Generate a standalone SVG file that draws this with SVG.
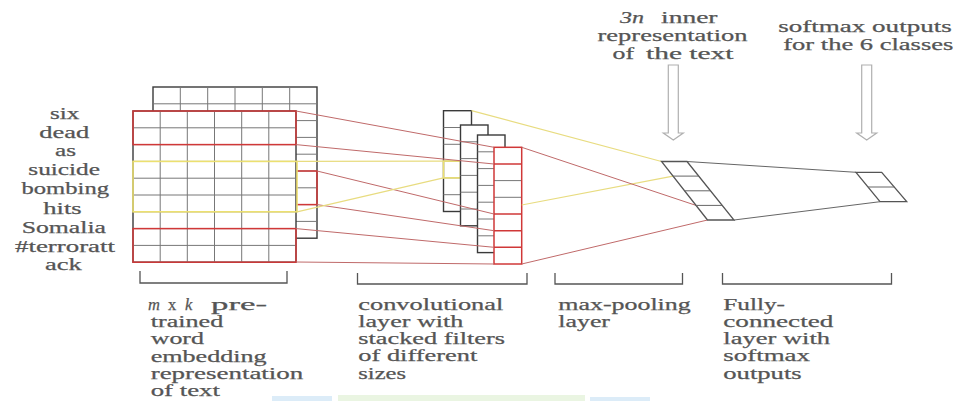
<svg xmlns="http://www.w3.org/2000/svg" width="957" height="401" viewBox="0 0 957 401">
<style>
text{font-family:'Liberation Serif','Times New Roman',serif;font-size:16.5px;fill:#555;stroke:#555;stroke-width:0.25}
.i{font-style:italic}
.grid{fill:none;stroke:#777;stroke-width:1}
.box{fill:#fff;stroke:#3a3a3a;stroke-width:1.4}
.red{fill:none;stroke:#d03838;stroke-width:1.5}
.yel{fill:none;stroke:#ece070;stroke-width:1.6}
.rl{fill:none;stroke:#c06a6a;stroke-width:1}
.yl{fill:none;stroke:#e8dc80;stroke-width:1.2}
.gl{fill:none;stroke:#666;stroke-width:1}
.br{fill:none;stroke:#555;stroke-width:1.3}
.arr{fill:#fff;stroke:#b0b0b0;stroke-width:1.2}
</style>
<rect width="957" height="401" fill="#fff"/>
<g id="artifacts">
<rect x="272" y="396" width="60" height="5" fill="#dcecf8"/>
<rect x="338" y="395" width="247" height="6" fill="#eaf5e2"/>
<rect x="590" y="397" width="60" height="4" fill="#dcecf8"/>
</g>
<g id="words">
<text x="50" y="118.5" textLength="29.3" lengthAdjust="spacingAndGlyphs">six</text>
<text x="39.3" y="137.5" textLength="50" lengthAdjust="spacingAndGlyphs">dead</text>
<text x="55" y="156" textLength="21" lengthAdjust="spacingAndGlyphs">as</text>
<text x="28.3" y="175.3" textLength="71.7" lengthAdjust="spacingAndGlyphs">suicide</text>
<text x="21.5" y="194.3" textLength="87.5" lengthAdjust="spacingAndGlyphs">bombing</text>
<text x="43.3" y="213.8" textLength="38.4" lengthAdjust="spacingAndGlyphs">hits</text>
<text x="21.7" y="233" textLength="84.3" lengthAdjust="spacingAndGlyphs">Somalia</text>
<text x="15" y="251.8" textLength="100" lengthAdjust="spacingAndGlyphs">#terroratt</text>
<text x="45" y="270.3" textLength="36.7" lengthAdjust="spacingAndGlyphs">ack</text>
</g>
<g id="embedding-matrix">
<rect class="box" x="153" y="87" width="164" height="151.2"/>
<path class="grid" d="M180.3 87V238.2M207.7 87V238.2M235 87V238.2M262.3 87V238.2M289.7 87V238.2M153 103.8H317M153 120.6H317M153 137.4H317M153 154.2H317M153 171H317M153 187.8H317M153 204.6H317M153 221.4H317"/>
<rect class="red" x="296" y="171" width="21" height="33.6"/>
<rect class="box" x="133" y="111" width="163" height="151.2"/>
<path class="grid" d="M160.2 111V262.2M187.3 111V262.2M214.5 111V262.2M241.7 111V262.2M268.8 111V262.2M133 127.8H296M133 144.6H296M133 161.4H296M133 178.2H296M133 195H296M133 211.8H296M133 228.6H296M133 245.4H296"/>
<rect class="red" x="133" y="111" width="163" height="33.6"/>
<rect class="yel" x="133" y="161.4" width="164" height="50.4"/>
<rect class="red" x="133" y="228.6" width="163" height="33.6"/>
</g>
<g id="conv-filters">
<rect class="box" x="443.5" y="110.7" width="28" height="100.8"/>
<path class="grid" d="M443.5 127.5H471.5M443.5 144.3H471.5M443.5 161.1H471.5M443.5 177.9H471.5M443.5 194.7H471.5"/>
<rect class="yel" x="443.5" y="161.1" width="17" height="16.8"/>
<rect class="box" x="460.5" y="125" width="27.5" height="100.8"/>
<path class="grid" d="M460.5 141.8H488M460.5 158.6H488M460.5 175.4H488M460.5 192.2H488M460.5 209H488"/>
<rect class="box" x="477.5" y="135" width="27.5" height="117.6"/>
<path class="grid" d="M477.5 151.8H505M477.5 168.6H505M477.5 185.4H505M477.5 202.2H505M477.5 219H505M477.5 235.8H505"/>
<rect x="494" y="147.3" width="27.7" height="116.7" fill="#fff"/>
<path class="grid" d="M494 180.6H521.7M494 197.3H521.7"/>
<path class="red" d="M494 164H521.7M494 214H521.7M494 230.7H521.7M494 247.3H521.7"/>
<rect class="red" x="494" y="147.3" width="27.7" height="116.7"/>
</g>
<g id="connectors">
<path class="rl" d="M296 111L494 147.3M296 144.6L494 164M317 171L494 214M317 204.6L494 230.7M296 228.6L494 247.3M296 262L494 264"/>
<path class="yl" d="M297 161.4L443.5 161.1M297 211.8L443.5 177.9"/>
<path class="yl" d="M471.5 110.7L661.5 161.5M521.7 205L673 176.1"/>
<path class="rl" d="M521.7 147.3L696 205.4M521.7 264L707.5 220"/>
<path class="gl" d="M687 161.5L856 172.3M734 220L880 201.7"/>
</g>
<g id="max-pooling">
<path fill="#fff" stroke="#555" stroke-width="1.3" d="M661.5 161.5H687L734 220H707.5Z"/>
<path class="gl" d="M673 176.1H698.8M684.5 190.8H710.5M696 205.4H722.3"/>
</g>
<g id="softmax-output">
<path fill="#fff" stroke="#555" stroke-width="1.3" d="M856 172.3H881.7L906.7 201.7H880Z"/>
<path class="gl" d="M868 187H894.2"/>
</g>
<g id="arrow-inner">
<path class="arr" d="M668.3 65H678.3V133H683.3L673.3 140L663.3 133H668.3Z"/>
</g>
<g id="arrow-softmax">
<path class="arr" d="M861.7 65H871.7V133H876.7L866.7 140L856.7 133H861.7Z"/>
</g>
<g id="top-labels">
<text class="i" x="620" y="23" textLength="24" lengthAdjust="spacingAndGlyphs">3n</text>
<text x="661" y="23" textLength="56.5" lengthAdjust="spacingAndGlyphs">inner</text>
<text x="597.5" y="40.8" textLength="150" lengthAdjust="spacingAndGlyphs">representation</text>
<text x="612.5" y="58.5" textLength="21.5" lengthAdjust="spacingAndGlyphs">of</text>
<text x="646" y="58.5" textLength="87.5" lengthAdjust="spacingAndGlyphs">the text</text>
<text x="778.3" y="32" textLength="173.4" lengthAdjust="spacingAndGlyphs">softmax outputs</text>
<text x="783.3" y="49.5" textLength="170" lengthAdjust="spacingAndGlyphs">for the 6 classes</text>
</g>
<g id="brackets">
<path class="br" d="M140 271V283H287V271"/>
<path class="br" d="M357.5 273V284H527V273"/>
<path class="br" d="M555 273V284H682.5V273"/>
<path class="br" d="M722.5 273V284H891.5V273"/>
</g>
<g id="label-embedding">
<text class="i" x="148" y="310">m</text>
<text x="168" y="310">x</text>
<text class="i" x="185" y="310">k</text>
<text x="211" y="310" textLength="56" lengthAdjust="spacingAndGlyphs">pre-</text>
<text x="150.7" y="327" textLength="72.6" lengthAdjust="spacingAndGlyphs">trained</text>
<text x="150.7" y="344.3" textLength="53.3" lengthAdjust="spacingAndGlyphs">word</text>
<text x="150.7" y="361.6" textLength="116" lengthAdjust="spacingAndGlyphs">embedding</text>
<text x="150.7" y="379" textLength="152.6" lengthAdjust="spacingAndGlyphs">representation</text>
<text x="150.7" y="396.3" textLength="69.3" lengthAdjust="spacingAndGlyphs">of text</text>
</g>
<g id="label-conv">
<text x="358.3" y="309.5" textLength="145" lengthAdjust="spacingAndGlyphs">convolutional</text>
<text x="358.3" y="326.8" textLength="105" lengthAdjust="spacingAndGlyphs">layer with</text>
<text x="358.3" y="344" textLength="146.7" lengthAdjust="spacingAndGlyphs">stacked filters</text>
<text x="358.3" y="361.3" textLength="119" lengthAdjust="spacingAndGlyphs">of different</text>
<text x="358.3" y="378.6" textLength="47.7" lengthAdjust="spacingAndGlyphs">sizes</text>
</g>
<g id="label-maxpool">
<text x="558.3" y="309.5" textLength="132.4" lengthAdjust="spacingAndGlyphs">max-pooling</text>
<text x="558.3" y="326.8" textLength="51.7" lengthAdjust="spacingAndGlyphs">layer</text>
</g>
<g id="label-fc">
<text x="723.3" y="309.5" textLength="61.7" lengthAdjust="spacingAndGlyphs">Fully-</text>
<text x="723.3" y="326.8" textLength="110" lengthAdjust="spacingAndGlyphs">connected</text>
<text x="723.3" y="344" textLength="106.7" lengthAdjust="spacingAndGlyphs">layer with</text>
<text x="723.3" y="361.3" textLength="86.7" lengthAdjust="spacingAndGlyphs">softmax</text>
<text x="723.3" y="378.6" textLength="78.4" lengthAdjust="spacingAndGlyphs">outputs</text>
</g>
</svg>
